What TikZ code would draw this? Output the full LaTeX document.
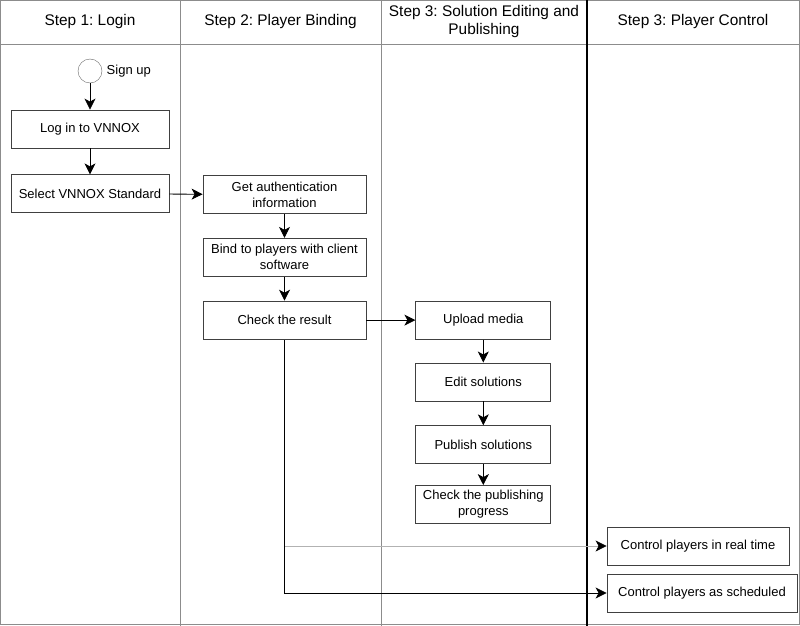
\documentclass[tikz,border=0pt]{standalone}
\usepackage{fontspec}
\setmainfont{Liberation Sans}
\usepackage{tikz}
\usetikzlibrary{arrows.meta,positioning}
\frenchspacing

\begin{document}
\begin{tikzpicture}[
    x=1pt, y=-1pt,
    font=\fontsize{13}{16}\selectfont,
    node distance=24pt,
    lane/.style={draw=black!45, line width=0.9pt},
    head/.style={font=\fontsize{15.4}{18}\selectfont, align=center},
    box/.style={draw=black!75, line width=0.8pt, align=center, minimum height=38pt, inner sep=2pt},
    start/.style={draw=black!60, circle, minimum size=24pt, inner sep=0pt},
    arrow/.style={-{Stealth[length=11pt, width=11pt, inset=3pt, black]}, line width=0.8pt},
    faint/.style={draw=black!30}
  ]
  \useasboundingbox (0,0) rectangle (800,626);

  % Swimlanes (header row and columns)
  \draw[lane] (0.5,0.5) rectangle (799.5,624.5);
  \draw[lane] (0,44) -- (800,44);
  \draw[lane] (180,0) -- (180,626);
  \draw[lane] (381,0) -- (381,626);
  \draw[black, line width=1.2pt] (587,0) -- (587,626);

  \node[head] (h1) at (90,22) {Step 1: Login};
  \node[head] (h2) at (280.5,22) {Step 2: Player Binding};
  \node[head] (h3) at (484,22) {Step 3: Solution Editing and\\Publishing};
  \node[head] (h4) at (693,22) {Step 3: Player Control};

  % Step 1
  \node[start] (signup) at (90,71) {};
  \node[right=1pt of signup] (signuptxt) {Sign up};
  \node[box, minimum width=158pt] (login) at (90,129) {Log in to VNNOX};
  \node[box, minimum width=158pt, below=26pt of login] (select) {Select VNNOX Standard};

  % Step 2
  \node[box, minimum width=163pt] (auth) at (284.5,194.5) {Get authentication\\information};
  \node[box, minimum width=163pt, below=of auth] (bind) {Bind to players with client\\software};
  \node[box, minimum width=163pt, below=of bind] (check) {Check the result};

  % Step 3
  \node[box, minimum width=135pt, right=49pt of check] (upload) {Upload media};
  \node[box, minimum width=135pt, below=23pt of upload] (edit) {Edit solutions};
  \node[box, minimum width=135pt, below=of edit] (publish) {Publish solutions};
  \node[box, minimum width=135pt, below=21pt of publish] (progress) {Check the publishing\\progress};

  % Player control
  \node[box, minimum width=182pt] (realtime) at (698,546) {Control players in real time};
  \node[box, minimum width=190pt] (sched) at (702,593) {Control players as scheduled};

  % Connectors
  \draw[arrow] (signup) -- (login);
  \draw[arrow] (login) -- (select);
  \draw[arrow] (select) -- (auth);
  \draw[arrow] (auth) -- (bind);
  \draw[arrow] (bind) -- (check);
  \draw[arrow] (check) -- (upload);
  \draw[arrow] (upload) -- (edit);
  \draw[arrow] (edit) -- (publish);
  \draw[arrow] (publish) -- (progress);
  \draw[arrow, faint] (check.south) |- (realtime.west);
  \draw[arrow] (check.south) |- (sched.west);

\end{tikzpicture}
\end{document}
